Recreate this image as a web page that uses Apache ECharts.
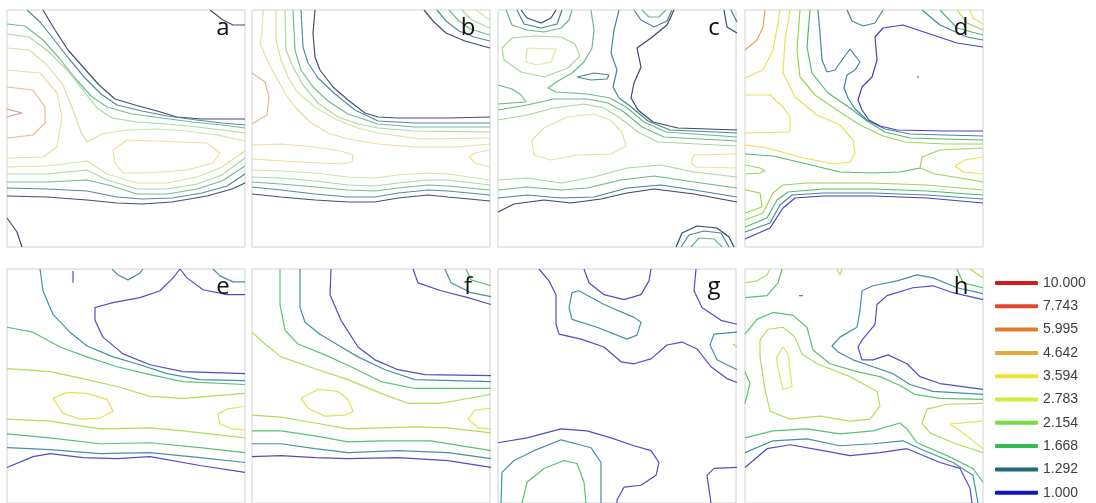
<!DOCTYPE html>
<html>
<head>
<meta charset="utf-8">
<script src="https://cdn.jsdelivr.net/npm/echarts/dist/echarts.min.js"></script>
<style>
  html, body { margin: 0; padding: 0; background: #ffffff; }
  #chart { width: 1096px; height: 503px; }
</style>
</head>
<body>
<div id="chart"></div>
<script>
// Contour levels shown in the legend (top to bottom) and their colours
const LEVELS = ['10.000', '7.743', '5.995', '4.642', '3.594', '2.783', '2.154', '1.668', '1.292', '1.000'];
const LEVEL_COLORS = ['#d01a1a', '#e2492c', '#e27a2a', '#e2aa3a', '#eee234', '#cfee3c', '#74dc44', '#34bc54', '#23697c', '#1414c4'];

const PANEL_LABELS = ['a', 'b', 'c', 'd', 'e', 'f', 'g', 'h'];

// Each panel: list of [level index (1 = lowest), polyline in grid units (x 0-238, y 0-237 from top)]
const panelA = [
  [1, [[36,0],[48,20],[61,40],[76,57],[92,75],[108,89],[128,95],[150,101],[170,107],[195,109],[215,109],[238,109]]],
  [2, [[20,0],[34,13],[48,31],[63,50],[78,68],[94,84],[110,95],[135,101],[160,106],[190,110],[215,113],[238,115]]],
  [3, [[0,14],[18,16],[36,30],[52,48],[68,68],[84,86],[100,97],[125,104],[155,108],[185,112],[215,115],[238,118]]],
  [4, [[0,24],[22,27],[42,42],[60,60],[76,80],[90,98],[105,108],[130,112],[160,114],[190,117],[215,120],[238,123]]],
  [5, [[0,38],[22,40],[40,55],[56,75],[66,100],[74,122],[80,132],[95,124],[120,120],[150,119],[180,121],[210,125],[238,131]]],
  [6, [[0,60],[33,63],[50,83],[55,107],[50,137],[36,147],[0,148]]],
  [6, [[120,130],[200,133],[213,143],[206,153],[180,160],[140,163],[116,163],[108,153],[106,140],[120,130]]],
  [7, [[0,77],[26,80],[38,97],[38,113],[26,125],[0,128]]],
  [8, [[0,99],[15,103],[0,107]]],
  [5, [[0,157],[40,156],[80,151],[100,164],[130,173],[160,173],[190,167],[215,157],[238,141]]],
  [4, [[0,164],[40,164],[80,160],[100,170],[130,179],[160,179],[190,174],[215,165],[238,148]]],
  [3, [[0,172],[40,172],[80,170],[105,176],[130,184],[160,184],[190,179],[215,171],[238,156]]],
  [2, [[0,178],[40,179],[80,181],[110,187],[135,189],[165,188],[195,183],[220,176],[238,164]]],
  [1, [[0,186],[40,187],[80,190],[110,193],[135,194],[165,192],[200,186],[225,179],[238,173]]],
  [1, [[0,208],[10,222],[15,237]]],
  [1, [[203,0],[216,10],[226,15],[238,15]]]
];

const panelB = [
  [1, [[63,0],[61,23],[63,47],[68,60],[81,77],[96,90],[113,103],[126,107],[146,108],[196,108],[238,107]]],
  [2, [[49,0],[51,37],[56,53],[66,68],[83,84],[103,100],[126,111],[163,113],[238,113]]],
  [3, [[41,0],[43,40],[49,60],[61,77],[76,91],[96,104],[126,114],[163,117],[238,117]]],
  [4, [[33,0],[34,40],[41,57],[51,75],[66,93],[86,107],[106,114],[126,118],[163,121],[238,122]]],
  [5, [[24,0],[24,30],[29,50],[36,67],[46,83],[63,97],[83,109],[106,118],[126,123],[169,129],[238,128]]],
  [6, [[11,0],[10,23],[8,33],[13,45],[19,58],[27,72],[34,85],[44,98],[58,112],[76,123],[96,129],[126,134],[163,137],[203,137],[238,134]]],
  [7, [[0,63],[13,72],[17,87],[15,105],[0,114]]],
  [6, [[0,135],[29,134],[63,137],[89,141],[101,145],[100,152],[91,154],[46,152],[0,149]]],
  [6, [[238,140],[223,143],[217,147],[223,153],[238,157]]],
  [5, [[0,160],[29,161],[63,163],[96,167],[123,168],[146,165],[176,163],[196,164],[238,170]]],
  [4, [[0,167],[29,168],[63,171],[96,175],[123,176],[146,173],[176,170],[196,170],[238,175]]],
  [3, [[0,172],[29,174],[63,177],[96,180],[123,181],[146,178],[176,175],[196,176],[238,180]]],
  [2, [[0,177],[29,180],[63,184],[96,187],[123,187],[146,183],[176,180],[196,181],[238,185]]],
  [1, [[0,184],[29,187],[63,190],[96,192],[123,192],[146,188],[176,185],[196,187],[238,191]]],
  [1, [[172,0],[181,11],[194,23],[213,31],[238,38]]],
  [2, [[185,0],[194,11],[207,21],[222,27],[238,31]]],
  [3, [[197,0],[206,10],[218,19],[238,25]]],
  [4, [[210,0],[220,10],[238,18]]],
  [5, [[224,0],[238,10]]]
];

const panelC = [
  [1, [[23,0],[29,8],[43,13],[53,8],[58,0]]],
  [2, [[19,0],[26,14],[43,18],[59,14],[64,0]]],
  [3, [[8,0],[14,15],[29,20],[46,22],[63,18],[71,10],[74,0]]],
  [4, [[4,38],[14,28],[36,26],[63,27],[77,34],[82,46],[70,58],[46,67],[23,62],[6,50],[4,38]]],
  [5, [[29,38],[58,39],[53,52],[39,55],[28,52],[29,38]]],
  [3, [[93,0],[96,20],[94,38],[86,52],[74,63],[60,71],[50,78],[58,82],[89,84],[112,88],[128,97],[146,112],[168,122],[239,127]]],
  [3, [[0,75],[14,79],[23,85],[28,92],[0,94]]],
  [3, [[0,100],[29,95],[56,89],[89,89],[110,93],[126,102],[144,117],[166,127],[239,131]]],
  [4, [[0,110],[29,105],[56,98],[86,94],[106,98],[122,108],[140,122],[160,132],[239,136]]],
  [1, [[176,0],[169,15],[153,28],[139,38],[143,57],[136,73],[133,88],[140,100],[155,112],[180,118],[239,120]]],
  [2, [[121,0],[116,20],[113,43],[119,60],[115,77],[121,88],[132,96],[150,111],[172,120],[239,123]]],
  [2, [[79,67],[96,63],[111,65],[109,69],[93,70],[79,67]]],
  [2, [[136,0],[143,10],[156,17],[169,11],[174,0]]],
  [3, [[144,0],[151,7],[161,7],[168,0]]],
  [1, [[226,0],[229,17],[239,23]]],
  [2, [[233,0],[239,12]]],
  [5, [[34,130],[46,118],[69,107],[96,104],[112,110],[124,122],[128,136],[113,144],[79,145],[53,150],[36,145],[34,130]]],
  [5, [[239,144],[196,145],[193,153],[198,157],[239,158]]],
  [4, [[0,170],[29,168],[63,173],[96,167],[129,158],[163,155],[196,162],[239,167]]],
  [3, [[0,180],[29,177],[63,180],[89,178],[123,170],[156,166],[196,172],[239,178]]],
  [2, [[0,188],[29,185],[63,188],[96,187],[129,178],[163,175],[196,180],[239,187]]],
  [1, [[0,202],[16,194],[46,190],[73,193],[103,189],[129,183],[156,179],[196,184],[239,192]]],
  [1, [[178,237],[184,223],[199,216],[219,218],[231,227],[236,237]]],
  [2, [[183,237],[191,225],[206,221],[223,223],[231,237]]],
  [3, [[193,237],[201,228],[216,229],[224,237]]]
];

const panelD = [
  [6, [[0,40],[12,30],[18,17],[20,0]]],
  [5, [[0,68],[18,60],[28,40],[33,13],[35,0]]],
  [5, [[0,85],[25,85],[38,97],[45,107],[45,122],[0,123]]],
  [5, [[45,0],[40,30],[38,63],[50,87],[72,105],[95,115],[108,130],[110,143],[105,152],[88,154],[55,147],[22,138],[0,135]]],
  [4, [[55,0],[52,40],[55,67],[70,85],[95,102],[115,115],[138,126],[160,132],[200,134],[238,134]]],
  [3, [[65,0],[62,37],[67,63],[83,83],[105,98],[122,111],[140,122],[165,128],[200,129],[238,130]]],
  [2, [[73,0],[75,23],[77,50],[82,62],[90,60],[97,50],[105,39],[115,52],[110,60],[102,65],[99,78],[103,88],[110,99],[122,110],[140,119],[165,124],[238,126]]],
  [2, [[102,0],[107,11],[118,16],[130,13],[138,0]]],
  [1, [[238,37],[212,33],[182,23],[158,15],[138,18],[130,27],[132,50],[127,67],[117,77],[113,90],[117,100],[124,110],[135,116],[152,120],[200,121],[238,121]]],
  [5, [[225,0],[228,8],[238,14]]],
  [4, [[212,0],[222,13],[238,20]]],
  [3, [[195,0],[212,18],[238,25]]],
  [2, [[177,0],[195,15],[222,27],[238,30]]],
  [3, [[0,144],[28,146],[62,154],[95,162],[128,163],[155,162],[175,158]]],
  [4, [[238,138],[195,140],[177,147],[175,158],[190,164],[215,168],[238,172]]],
  [5, [[238,147],[220,150],[210,156],[218,162],[238,164]]],
  [4, [[0,155],[15,158],[20,161],[15,163],[0,164]]],
  [4, [[0,180],[15,183],[17,197],[0,203]]],
  [4, [[0,210],[18,203],[28,183],[38,175],[62,173],[125,173],[182,175],[238,180]]],
  [3, [[0,217],[22,208],[32,190],[43,182],[78,179],[128,179],[182,181],[238,185]]],
  [2, [[0,222],[25,213],[35,195],[47,185],[78,183],[128,183],[182,185],[238,189]]],
  [1, [[0,229],[25,218],[38,198],[50,188],[78,186],[128,186],[182,188],[238,193]]],
  [1, [[172,67],[174,67]]]
];

const panelE = [
  [1, [[173,0],[166,9],[153,22],[133,29],[106,34],[88,39],[88,52],[96,69],[116,86],[143,97],[176,104],[238,106]]],
  [1, [[173,0],[180,9],[196,21],[220,26],[238,26]]],
  [1, [[66,2],[66,14]]],
  [2, [[33,0],[36,22],[46,46],[63,64],[80,78],[106,89],[133,97],[160,106],[193,112],[238,113]]],
  [2, [[105,0],[111,6],[121,11],[133,4],[136,0]]],
  [2, [[206,0],[213,7],[226,13],[238,13]]],
  [3, [[0,59],[26,64],[53,79],[80,89],[110,99],[143,107],[176,114],[238,117]]],
  [4, [[0,101],[43,104],[76,111],[110,119],[143,129],[176,131],[238,126]]],
  [5, [[46,131],[60,125],[80,126],[100,132],[106,144],[93,151],[73,152],[56,146],[46,131]]],
  [5, [[238,139],[220,142],[211,147],[213,157],[226,162],[238,163]]],
  [4, [[0,152],[43,154],[93,162],[143,161],[176,164],[238,171]]],
  [3, [[0,167],[43,171],[93,177],[143,176],[193,181],[238,186]]],
  [2, [[0,181],[43,183],[93,187],[143,186],[193,191],[238,196]]],
  [1, [[0,201],[26,190],[43,187],[76,191],[110,192],[143,190],[193,199],[238,206]]]
];

const panelF = [
  [1, [[79,0],[78,26],[89,52],[106,79],[123,92],[146,102],[173,107],[239,108]]],
  [2, [[48,0],[48,39],[53,54],[68,66],[86,77],[106,89],[133,102],[163,112],[239,114]]],
  [3, [[28,0],[28,36],[33,62],[46,76],[73,87],[99,99],[129,114],[163,121],[239,121]]],
  [4, [[0,64],[13,76],[29,89],[63,101],[96,112],[129,126],[156,136],[189,136],[239,127]]],
  [5, [[49,131],[66,122],[86,124],[96,132],[101,144],[93,148],[73,149],[56,141],[49,131]]],
  [5, [[239,141],[223,143],[216,152],[226,161],[239,162]]],
  [4, [[0,148],[29,150],[63,156],[96,162],[129,161],[163,160],[196,161],[239,166]]],
  [3, [[0,164],[29,164],[63,169],[96,175],[129,174],[179,174],[239,184]]],
  [2, [[0,177],[29,177],[63,182],[96,186],[146,184],[196,186],[239,192]]],
  [1, [[0,190],[29,189],[63,191],[96,192],[146,191],[196,194],[239,201]]],
  [1, [[161,0],[166,14],[189,22],[216,29],[239,36]]],
  [2, [[193,0],[199,14],[219,24],[239,28]]],
  [3, [[214,0],[219,11],[239,17]]]
];

const panelG = [
  [1, [[41,0],[51,12],[58,26],[58,56],[61,66],[83,71],[106,79],[123,94],[136,96],[153,91],[169,77],[184,74],[199,81],[213,99],[229,111],[239,115]]],
  [1, [[86,0],[91,14],[106,26],[126,31],[143,26],[151,12],[153,0]]],
  [1, [[198,0],[196,22],[204,39],[223,52],[239,56]]],
  [2, [[74,24],[71,39],[74,51],[99,59],[129,71],[139,67],[143,54],[136,49],[106,36],[81,22],[74,24]]],
  [2, [[239,64],[216,66],[212,77],[219,92],[239,102]]],
  [4, [[235,76],[239,79]]],
  [1, [[0,176],[29,171],[63,162],[89,164],[113,171],[136,179],[153,184],[161,196],[158,209],[143,219],[126,221],[119,234],[119,237]]],
  [2, [[3,237],[4,206],[16,194],[36,184],[63,173],[93,181],[103,196],[103,237]]],
  [3, [[24,237],[29,216],[46,202],[66,194],[79,197],[86,216],[88,237]]],
  [1, [[239,201],[216,202],[209,209],[213,237]]]
];

const panelH = [
  [4, [[0,14],[12,12],[22,6],[25,0]]],
  [3, [[0,29],[22,27],[33,14],[37,0]]],
  [4, [[92,0],[95,6],[97,0]]],
  [2, [[54,27],[58,27]]],
  [3, [[0,66],[12,51],[28,44],[48,47],[62,59],[68,82],[85,96],[112,104],[135,109],[155,118],[170,127],[195,131],[238,132]]],
  [4, [[15,72],[23,61],[38,59],[50,69],[57,86],[72,96],[105,109],[132,124],[135,139],[125,152],[105,154],[75,149],[45,152],[25,144],[20,122],[15,89],[15,72]]],
  [5, [[32,89],[38,79],[43,86],[47,119],[38,122],[32,96],[32,89]]],
  [3, [[0,104],[5,116],[0,136]]],
  [2, [[238,25],[212,19],[188,9],[172,6],[152,12],[128,17],[117,22],[115,42],[112,59],[95,69],[87,78],[93,84],[108,92],[128,99],[148,106],[165,117],[188,124],[238,127]]],
  [1, [[238,31],[208,24],[188,17],[168,19],[142,27],[132,36],[130,56],[117,72],[113,79],[117,92],[128,92],[143,87],[162,96],[175,109],[195,116],[238,122]]],
  [3, [[212,0],[218,14],[238,19]]],
  [4, [[225,0],[238,9]]],
  [4, [[238,136],[202,137],[182,142],[177,156],[185,166],[208,176],[238,186]]],
  [5, [[238,154],[205,157],[222,169],[238,182]]],
  [3, [[0,171],[28,164],[62,162],[95,167],[128,164],[155,156],[162,162],[172,176],[202,189],[228,202],[238,216]]],
  [2, [[0,186],[28,174],[62,172],[95,179],[128,177],[158,174],[175,182],[208,196],[228,209],[233,237]]],
  [1, [[0,201],[22,182],[45,178],[78,184],[105,189],[135,186],[162,182],[195,196],[215,202],[225,222],[227,237]]]
];

// Line colours per level for each panel's colour scale
const PALETTE_SOFT = ['#3b4566', '#4d8694', '#6db690', '#a4d6a0', '#d2e19c', '#eadb9e', '#dfb78e', '#cf9680'];
const PALETTE_MID = ['#2f3b62', '#3f7f8c', '#64b484', '#a5d594', '#dfe398'];
const PALETTE_VIVID = ['#3e33c2', '#3d7f95', '#48b566', '#98d24a', '#e6df48', '#e0a24a'];
const PALETTE_COOL = ['#4b40c6', '#3c8a9b', '#4fbe6c', '#aedb4e', '#e2e24c'];

const panels = [
  { lines: panelA, palette: PALETTE_SOFT },
  { lines: panelB, palette: PALETTE_SOFT },
  { lines: panelC, palette: PALETTE_MID },
  { lines: panelD, palette: PALETTE_VIVID },
  { lines: panelE, palette: PALETTE_COOL },
  { lines: panelF, palette: PALETTE_COOL },
  { lines: panelG, palette: PALETTE_COOL },
  { lines: panelH, palette: PALETTE_COOL }
];

// Layout of the 4 x 2 panel grid (pixels)
const COL_LEFT = [7, 252, 498, 745];
const ROW_TOP = [10, 269];
const PANEL_W = 238, PANEL_H = 237;

const grids = [], xAxes = [], yAxes = [], series = [], graphics = [];

panels.forEach((p, i) => {
  const left = COL_LEFT[i % 4];
  const top = ROW_TOP[Math.floor(i / 4)];
  grids.push({
    left: left, top: top, width: PANEL_W, height: PANEL_H,
    show: true, borderColor: '#d2d2d2', borderWidth: 1, backgroundColor: 'transparent'
  });
  xAxes.push({ type: 'value', gridIndex: i, min: 0, max: 238, show: false });
  yAxes.push({ type: 'value', gridIndex: i, min: 0, max: 237, inverse: true, show: false });
  p.lines.forEach(([lvl, pts]) => {
    series.push({
      type: 'line', xAxisIndex: i, yAxisIndex: i, data: pts,
      symbol: 'none', smooth: false, silent: true, clip: true,
      lineStyle: { color: p.palette[lvl - 1], width: 1.2, opacity: 0.95 }
    });
  });
  graphics.push({
    type: 'text',
    x: left + PANEL_W - 22,
    y: top + 18,
    style: {
      text: PANEL_LABELS[i], fill: '#111111',
      font: '24px "Open Sans", sans-serif',
      align: 'center', verticalAlign: 'middle'
    },
    z: 100
  });
});

// Legend entries: one empty series per contour level
LEVELS.forEach((name, k) => {
  series.push({
    type: 'line', name: name, data: [], xAxisIndex: 0, yAxisIndex: 0,
    color: LEVEL_COLORS[k], lineStyle: { color: LEVEL_COLORS[k] }, itemStyle: { color: LEVEL_COLORS[k] }
  });
});

const chart = echarts.init(document.getElementById('chart'), null, { renderer: 'canvas' });
chart.setOption({
  backgroundColor: '#ffffff',
  animation: false,
  grid: grids,
  xAxis: xAxes,
  yAxis: yAxes,
  legend: {
    data: LEVELS,
    orient: 'vertical',
    left: 995, top: 276,
    padding: 0,
    icon: 'roundRect',
    itemWidth: 43, itemHeight: 4,
    itemGap: 9.3,
    selectedMode: false,
    textStyle: { fontSize: 14, color: '#404040', fontFamily: '"Liberation Sans", Arial, sans-serif', lineHeight: 14 }
  },
  graphic: graphics,
  series: series
});
</script>
</body>
</html>
